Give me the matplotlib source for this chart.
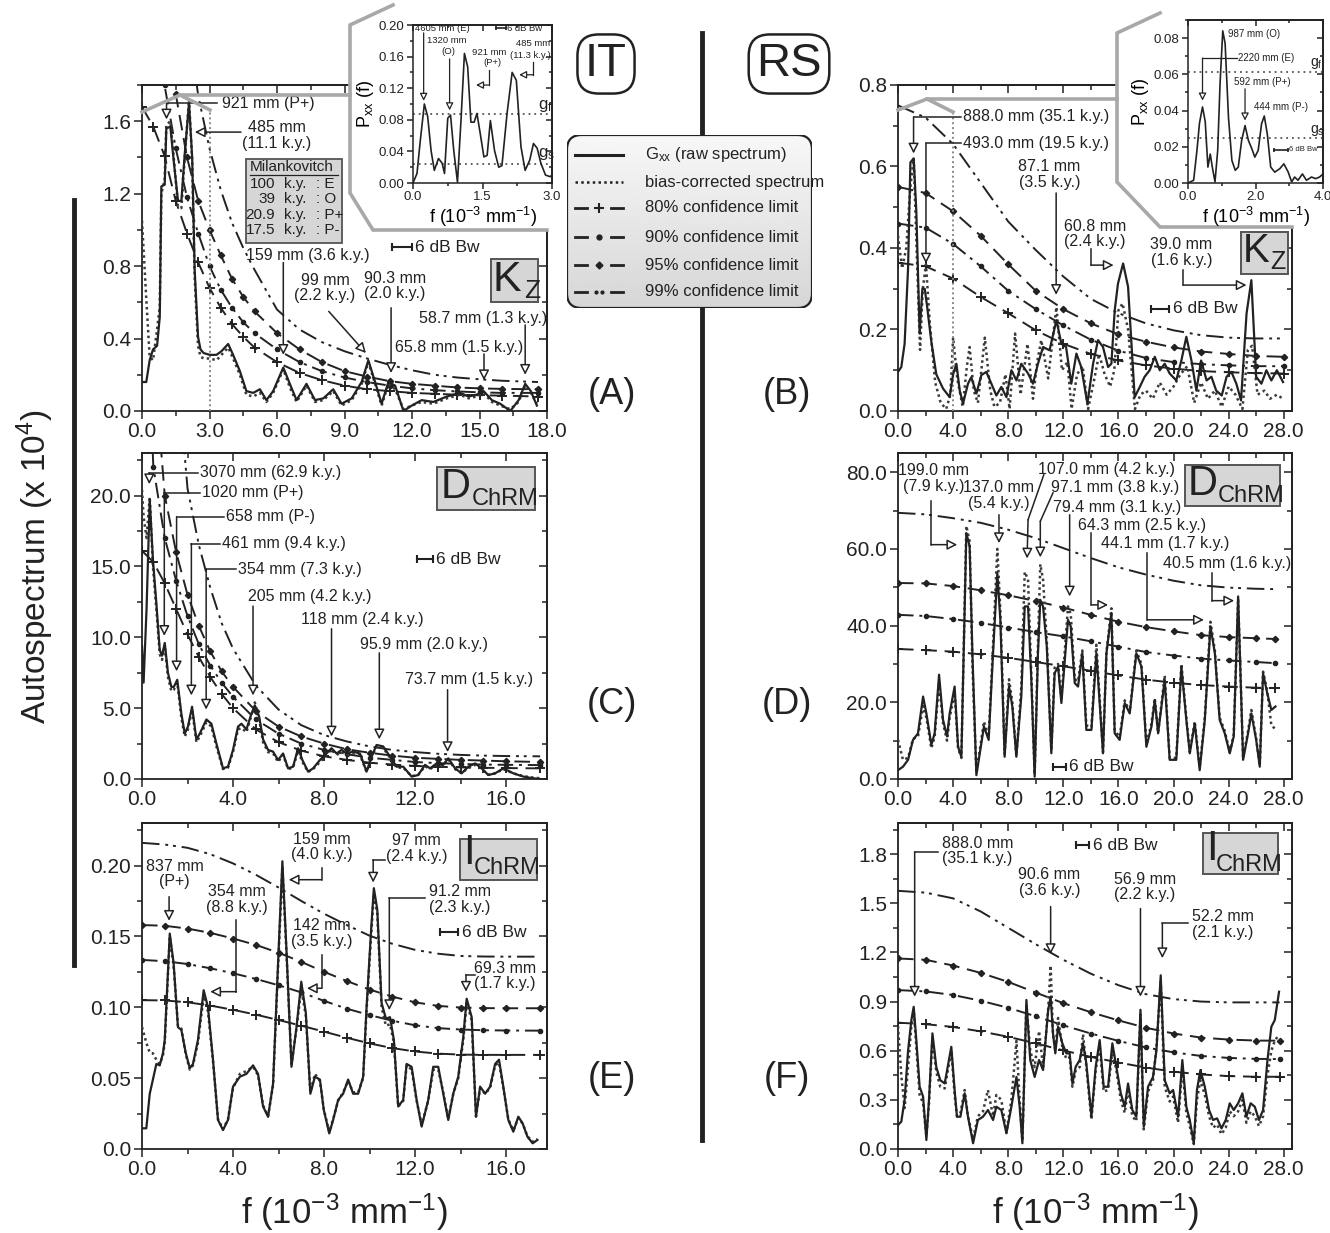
"""
Autospectra of the IT and RS sections (Kz, D_ChRM, I_ChRM) with the
bias-corrected spectrum and 80/90/95/99 % confidence limits.
"""
import matplotlib
matplotlib.use("Agg")
import matplotlib.pyplot as plt
from matplotlib.lines import Line2D
from matplotlib.patches import Rectangle, Polygon, FancyBboxPatch
from matplotlib.ticker import MultipleLocator, FormatStrFormatter, FuncFormatter
import numpy as np

# ── panel A : IT, Kz ─────────────────────────────────────────────────────────
A_F = [0.0, 0.19, 0.34, 0.49, 0.67, 0.79, 0.86, 1.01, 1.08, 1.26, 1.41, 1.60, 1.75, 1.90, 2.09,
       2.23, 2.34, 2.49, 2.60, 2.74, 3.01, 3.31, 3.53, 3.83, 4.05, 4.35, 4.64, 4.94, 5.24, 5.53,
       5.83, 6.28, 6.57, 6.87, 7.31, 7.69, 8.06, 8.50, 8.87, 9.32, 9.76, 10.06, 10.36, 10.65,
       10.95, 11.25, 11.62, 11.99, 12.43, 12.95, 13.55, 14.14, 14.51, 14.88, 15.18, 15.55, 15.92,
       16.37, 16.74, 17.03, 17.28, 17.55]
A_RAW = [0.16, 0.16, 0.28, 0.34, 0.36, 0.52, 1.24, 1.25, 1.56, 1.57, 1.38, 1.16, 1.16, 1.42, 1.70,
         1.40, 0.78, 0.41, 0.34, 0.32, 0.31, 0.31, 0.33, 0.37, 0.31, 0.22, 0.11, 0.10, 0.12, 0.06,
         0.11, 0.24, 0.15, 0.06, 0.15, 0.06, 0.07, 0.12, 0.04, 0.07, 0.16, 0.28, 0.16, 0.04, 0.16,
         0.14, 0.00, 0.03, 0.06, 0.05, 0.08, 0.10, 0.08, 0.09, 0.11, 0.06, 0.04, 0.00, 0.06, 0.15,
         0.11, 0.03]
A_BC = [1.05, 0.62, 0.30, 0.28, 0.45, 0.58, 1.20, 1.28, 1.58, 1.60, 1.40, 1.13, 1.12, 1.40, 1.72,
        1.38, 0.74, 0.36, 0.30, 0.29, 0.29, 0.28, 0.31, 0.35, 0.29, 0.20, 0.09, 0.08, 0.10, 0.05,
        0.10, 0.23, 0.13, 0.05, 0.14, 0.05, 0.06, 0.11, 0.03, 0.06, 0.15, 0.27, 0.15, 0.03, 0.15,
        0.12, 0.01, 0.03, 0.05, 0.04, 0.07, 0.09, 0.07, 0.08, 0.10, 0.05, 0.03, 0.01, 0.05, 0.14,
        0.10, 0.04]
A_CF = [0.0, 0.5, 1.0, 1.5, 2.0, 2.5, 3.0, 3.5, 4.0, 4.5, 5.0, 6.0, 7.0, 8.0, 9.0, 10.0, 11.0,
        12.0, 13.0, 14.0, 15.0, 16.0, 17.6]
A_C80 = [1.68, 1.57, 1.41, 1.16, 0.98, 0.82, 0.68, 0.57, 0.48, 0.41, 0.35, 0.27, 0.21, 0.17, 0.14,
         0.12, 0.11, 0.10, 0.095, 0.09, 0.087, 0.085, 0.08]
A_C90 = [3.5, 2.5, 1.8, 1.45, 1.18, 0.98, 0.80, 0.67, 0.57, 0.49, 0.43, 0.34, 0.27, 0.22, 0.185,
         0.16, 0.14, 0.125, 0.115, 0.108, 0.103, 0.10, 0.10]
A_C95 = [5.0, 3.6, 2.5, 1.75, 1.40, 1.16, 1.00, 0.86, 0.73, 0.63, 0.55, 0.43, 0.34, 0.27, 0.22,
         0.19, 0.165, 0.15, 0.14, 0.13, 0.125, 0.122, 0.12]
A_C99 = [9.0, 6.0, 4.0, 3.0, 2.2, 1.74, 1.45, 1.22, 1.04, 0.90, 0.78, 0.56, 0.45, 0.38, 0.33,
         0.29, 0.255, 0.225, 0.20, 0.185, 0.175, 0.167, 0.16]

# inset of panel A
IA_F = [0, 0.086, 0.158, 0.245, 0.317, 0.39, 0.46, 0.55, 0.63, 0.68, 0.75, 0.81, 0.88, 0.96,
        1.04, 1.11, 1.18, 1.25, 1.32, 1.38, 1.45, 1.53, 1.6, 1.67, 1.76, 1.85, 1.92, 2.03, 2.14,
        2.23, 2.33, 2.42, 2.52, 2.6, 2.68, 2.76, 2.86, 2.96, 3.0]
IA_P = [0, 0.012, 0.054, 0.1, 0.084, 0.041, 0.016, 0.031, 0.025, 0.012, 0.082, 0.086, 0.041,
        0.001, 0.084, 0.164, 0.147, 0.077, 0.077, 0.088, 0.063, 0.033, 0.035, 0.079, 0.041, 0.02,
        0.022, 0.088, 0.14, 0.13, 0.046, 0.016, 0.029, 0.05, 0.044, 0.025, 0.01, 0.008, 0.01]
IA_GF, IA_GS = 0.087, 0.0245

# ── panel B : RS, Kz ─────────────────────────────────────────────────────────
B_F = [0, 0.24, 0.48, 0.73, 0.9, 1.14, 1.33, 1.57, 1.77, 1.94, 2.1, 2.42, 2.78, 3.27, 3.75, 4.0,
       4.24, 4.48, 4.72, 5.08, 5.32, 5.69, 6.05, 6.41, 6.78, 7.14, 7.5, 7.87, 8.23, 8.6, 8.95,
       9.44, 9.8, 10.16, 10.53, 11.0, 11.5, 11.86, 12.2, 12.58, 12.95, 13.3, 13.75, 14.16, 14.52,
       14.88, 15.25, 15.49, 15.73, 15.97, 16.34, 16.7, 17.18, 17.55, 17.9, 18.27, 18.64, 19.0,
       19.36, 19.72, 20.2, 20.57, 20.93, 21.3, 21.66, 22.0, 22.4, 22.75, 23.1, 23.5, 23.85, 24.2,
       24.56, 24.9, 25.3, 25.65, 26.0, 26.38, 26.74, 27.1, 27.5, 27.95]
B_RAW = [0.096, 0.108, 0.165, 0.35, 0.61, 0.62, 0.49, 0.19, 0.30, 0.30, 0.26, 0.17, 0.09, 0.055,
         0.034, 0.09, 0.116, 0.05, 0.018, 0.067, 0.083, 0.043, 0.088, 0.096, 0.067, 0.038, 0.059,
         0.034, 0.1, 0.075, 0.116, 0.092, 0.067, 0.116, 0.157, 0.149, 0.223, 0.165, 0.157, 0.067,
         0.141, 0.108, 0.018, 0.116, 0.174, 0.157, 0.108, 0.116, 0.247, 0.313, 0.362, 0.305,
         0.034, 0.059, 0.084, 0.1, 0.133, 0.1, 0.116, 0.092, 0.075, 0.124, 0.182, 0.124, 0.05,
         0.124, 0.075, 0.084, 0.05, 0.038, 0.084, 0.096, 0.067, 0.026, 0.239, 0.321, 0.084, 0.067,
         0.1, 0.075, 0.1, 0.071]
B_BF = [0, 0.3, 0.6, 0.9, 1.14, 1.35, 1.6, 1.8, 2.03, 2.3, 2.7, 3.1, 3.5, 3.8, 4.0, 4.3, 4.7, 5.0,
        5.2, 5.5, 5.8, 6.3, 6.7, 7.0, 7.4, 7.8, 8.1, 8.5, 8.9, 9.4, 9.8, 10.1, 10.4, 10.9, 11.5,
        11.9, 12.3, 12.6, 13.0, 13.4, 13.8, 14.2, 14.6, 15.0, 15.4, 15.7, 16.0, 16.3, 16.7, 17.2,
        17.6, 18.0, 18.5, 19.0, 19.5, 20.0, 20.5, 21.0, 21.5, 22.0, 22.5, 23.0, 23.5, 24.0, 24.5,
        25.0, 25.4, 25.7, 26.1, 26.6, 27.0, 27.5, 27.95]
B_BC = [0.43, 0.35, 0.40, 0.55, 0.62, 0.40, 0.15, 0.30, 0.36, 0.22, 0.07, 0.02, 0.005, 0.04, 0.18,
        0.08, 0.01, 0.11, 0.157, 0.05, 0.02, 0.18, 0.05, 0.01, 0.02, 0.09, 0.005, 0.19, 0.04, 0.165,
        0.03, 0.12, 0.174, 0.08, 0.255, 0.10, 0.12, 0.005, 0.09, 0.11, 0.005, 0.07, 0.14, 0.09,
        0.06, 0.10, 0.247, 0.264, 0.20, 0.005, 0.04, 0.05, 0.03, 0.07, 0.04, 0.06, 0.09, 0.11,
        0.02, 0.07, 0.03, 0.05, 0.01, 0.06, 0.04, 0.005, 0.15, 0.16, 0.04, 0.05, 0.03, 0.04, 0.03]
B_CF = [0, 2, 4, 6, 8, 10, 12, 14, 16, 18, 20, 22, 24, 26, 28]
B_C80 = [0.364, 0.355, 0.325, 0.28, 0.24, 0.198, 0.165, 0.14, 0.124, 0.112, 0.104, 0.098, 0.095,
         0.093, 0.092]
B_C90 = [0.46, 0.45, 0.41, 0.355, 0.295, 0.25, 0.21, 0.175, 0.148, 0.13, 0.12, 0.115, 0.112,
         0.11, 0.11]
B_C95 = [0.55, 0.535, 0.49, 0.43, 0.36, 0.295, 0.25, 0.215, 0.188, 0.17, 0.156, 0.146, 0.14,
         0.135, 0.133]
B_C99 = [0.75, 0.72, 0.655, 0.56, 0.465, 0.395, 0.33, 0.275, 0.24, 0.215, 0.198, 0.186, 0.18,
         0.178, 0.178]

# inset of panel B
IB_F = [0, 0.167, 0.265, 0.34, 0.43, 0.51, 0.59, 0.66, 0.72, 0.8, 0.88, 0.95, 1.03, 1.1, 1.2,
        1.3, 1.4, 1.49, 1.59, 1.69, 1.79, 1.89, 1.98, 2.08, 2.18, 2.26, 2.35, 2.45, 2.57, 2.72,
        2.84, 2.97, 3.07, 3.16, 3.26, 3.39, 3.51, 3.66, 3.78, 3.9, 4.0]
IB_P = [0, 0.0015, 0.018, 0.033, 0.042, 0.034, 0.0088, 0.016, 0.0088, 0.0006, 0.018, 0.055,
        0.084, 0.077, 0.036, 0.0125, 0.007, 0.0088, 0.0235, 0.0317, 0.0235, 0.019, 0.0143, 0.018,
        0.0327, 0.037, 0.027, 0.0088, 0.006, 0.0079, 0.0106, 0.006, 0.0006, 0.0033, 0.0015,
        0.005, 0.0015, 0.0033, 0.0024, 0.0033, 0.005]
IB_GF, IB_GS = 0.0615, 0.0248

# ── panel C : IT, D_ChRM ─────────────────────────────────────────────────────
C_F = [0, 0.07, 0.2, 0.34, 0.48, 0.63, 0.78, 0.88, 1.0, 1.14, 1.29, 1.4, 1.55, 1.73, 1.88, 2.02,
       2.2, 2.39, 2.54, 2.83, 3.05, 3.27, 3.56, 3.78, 4.0, 4.22, 4.37, 4.59, 4.81, 4.96, 5.15,
       5.32, 5.54, 5.76, 5.98, 6.2, 6.42, 6.64, 6.86, 7.05, 7.3, 7.52, 7.82, 8.11, 8.33, 8.55,
       8.77, 8.99, 9.28, 9.58, 9.87, 10.09, 10.31, 10.6, 10.9, 11.19, 11.48, 11.85, 12.14, 12.44,
       12.66, 12.95, 13.24, 13.46, 13.76, 14.05, 14.34, 14.64, 14.93, 15.22, 15.52, 15.88, 16.32,
       16.76, 17.2, 17.5]
C_RAW = [9.4, 6.8, 12.0, 19.7, 15.5, 12.4, 9.1, 8.7, 9.6, 7.5, 6.5, 6.5, 7.0, 4.6, 3.2, 3.7, 5.1,
         2.8, 3.2, 4.2, 3.9, 2.5, 0.75, 0.87, 2.05, 3.7, 3.9, 3.5, 4.6, 5.2, 4.4, 2.8, 2.05, 1.93,
         1.34, 1.8, 0.75, 0.87, 2.17, 1.34, 0.52, 0.75, 1.34, 1.8, 2.17, 1.8, 2.05, 1.8, 1.93, 1.8,
         0.52, 1.58, 2.4, 2.3, 1.58, 0.87, 0.87, 0.17, 0.28, 1.0, 0.75, 1.1, 1.0, 1.46, 0.75, 0.4,
         0.87, 1.1, 0.75, 0.28, 0.4, 0.75, 0.4, 0.17, 0.05, 0.0]
C_BC = [20.4, 18.5, 17.0, 19.9, 15.0, 12.0, 8.8, 8.4, 9.4, 7.2, 6.2, 6.3, 6.8, 4.3, 3.0, 3.5, 4.9,
        2.6, 3.0, 4.0, 3.7, 2.3, 0.7, 0.8, 1.9, 3.5, 3.6, 3.3, 4.5, 5.4, 4.2, 2.6, 1.9, 1.8, 1.2,
        1.7, 0.7, 0.8, 2.0, 1.2, 0.5, 0.7, 1.2, 1.7, 2.1, 1.7, 1.9, 1.7, 1.8, 1.7, 0.5, 1.5, 2.3,
        2.2, 1.5, 0.8, 0.8, 0.2, 0.3, 0.9, 0.7, 1.0, 0.9, 1.4, 0.7, 0.4, 0.8, 1.0, 0.7, 0.3, 0.4,
        0.7, 0.4, 0.2, 0.1, 0.05]
C_CF = [0, 0.5, 1.0, 1.5, 2.0, 2.5, 3.0, 3.5, 4.0, 5.0, 6.0, 7.0, 8.0, 9.0, 10.0, 11.0, 12.0,
        13.0, 14.0, 15.0, 16.0, 17.5]
C_C80 = [16.1, 15.3, 13.8, 12.0, 10.2, 8.6, 7.2, 6.0, 5.0, 3.5, 2.6, 2.0, 1.6, 1.35, 1.15, 1.02,
         0.92, 0.86, 0.82, 0.79, 0.77, 0.75]
C_C90 = [40.0, 22.0, 17.0, 14.0, 11.5, 9.5, 8.0, 6.8, 5.8, 4.2, 3.2, 2.5, 2.05, 1.75, 1.5, 1.35,
         1.2, 1.12, 1.06, 1.02, 1.0, 0.98]
C_C95 = [60.0, 30.0, 20.0, 16.0, 13.0, 10.8, 9.0, 7.6, 6.5, 4.8, 3.7, 3.0, 2.5, 2.1, 1.85, 1.65,
         1.5, 1.42, 1.35, 1.3, 1.25, 1.2]
C_C99 = [120.0, 70.0, 45.0, 30.0, 20.5, 16.5, 13.5, 11.0, 9.2, 6.6, 4.9, 3.8, 3.1, 2.65, 2.3,
         2.05, 1.9, 1.78, 1.7, 1.65, 1.62, 1.6]

# ── panel D : RS, D_ChRM ─────────────────────────────────────────────────────
D_F = [0, 0.36, 0.73, 1.09, 1.45, 1.82, 2.06, 2.42, 2.66, 2.98, 3.27, 3.56, 3.75, 4.11, 4.36,
       4.6, 4.96, 5.2, 5.4, 5.69, 6.24, 6.58, 6.9, 7.21, 7.43, 7.74, 8.06, 8.3, 8.59, 8.95, 9.2,
       9.44, 9.68, 9.92, 10.16, 10.33, 10.53, 10.8, 11.13, 11.37, 11.62, 11.86, 12.34, 12.54,
       12.83, 13.07, 13.38, 13.67, 14.04, 14.4, 14.88, 15.13, 15.49, 15.73, 16.09, 16.46, 16.82,
       17.3, 17.67, 18.03, 18.4, 18.64, 18.88, 19.36, 19.72, 20.2, 20.57, 20.93, 21.18, 21.54,
       21.9, 22.27, 22.68, 23.0, 23.35, 23.72, 24.08, 24.37, 24.69, 25.05, 25.41, 25.65, 26.0,
       26.26, 26.5, 26.8, 27.1, 27.4]
D_RAW = [2.3, 3.2, 5.0, 10.2, 11.9, 21.5, 17.1, 8.9, 11.9, 27.2, 15.4, 11.1, 17.1, 24.1, 8.4, 5.8,
         64.1, 60.7, 32.8, 1.0, 13.7, 10.2, 32.8, 53.7, 41.5, 5.8, 24.1, 18.9, 5.8, 21.5, 45.0,
         45.0, 25.8, 0.6, 32.8, 46.7, 45.0, 34.6, 6.7, 27.6, 29.3, 19.8, 41.5, 39.8, 25.0, 24.1,
         32.8, 12.8, 12.8, 32.8, 6.7, 32.8, 43.3, 11.9, 10.2, 19.8, 17.1, 32.8, 29.3, 8.4, 13.7,
         20.6, 11.9, 25.8, 5.0, 5.0, 29.3, 15.4, 6.7, 14.5, 2.3, 15.4, 39.8, 32.8, 15.4, 11.9, 6.7,
         11.1, 47.6, 5.0, 11.9, 17.1, 10.2, 3.2, 27.6, 22.4, 18.0, 18.9]
D_BC = [10.2, 5.0, 5.5, 10.5, 11.0, 19.0, 16.0, 8.0, 11.0, 25.0, 14.5, 10.0, 16.0, 22.5, 8.0, 5.5,
        66.0, 62.0, 30.0, 1.5, 15.0, 11.0, 35.0, 60.0, 44.0, 6.5, 26.0, 20.0, 6.0, 24.0, 54.0,
        52.0, 27.0, 1.2, 35.0, 56.0, 52.0, 36.0, 7.5, 29.0, 30.0, 21.0, 45.0, 43.0, 26.0, 25.5,
        33.5, 14.0, 13.5, 35.0, 7.0, 33.0, 44.5, 12.5, 11.0, 20.5, 17.5, 33.5, 30.0, 9.0, 14.5,
        21.0, 12.0, 27.0, 5.5, 5.5, 30.0, 16.0, 7.0, 15.0, 3.0, 16.0, 41.0, 33.5, 16.0, 12.5, 7.0,
        11.5, 47.0, 5.5, 12.5, 18.0, 10.5, 3.5, 28.0, 23.0, 14.0, 13.0]
D_CF = [0, 2, 4, 6, 8, 10, 12, 14, 16, 18, 20, 22, 24, 26, 27.4]
D_C80 = [33.9, 33.6, 33.2, 32.5, 31.6, 30.5, 29.4, 28.2, 27.0, 25.9, 25.1, 24.5, 24.1, 23.8, 23.7]
D_C90 = [42.8, 42.5, 41.7, 40.7, 39.5, 38.3, 37.2, 35.9, 34.5, 33.1, 32.2, 31.4, 30.9, 30.5, 30.2]
D_C95 = [51.1, 51.0, 50.3, 49.2, 47.9, 46.4, 44.7, 42.8, 41.0, 39.6, 38.5, 37.5, 37.0, 36.7, 36.5]
D_C99 = [69.4, 69.0, 68.0, 66.8, 65.0, 62.8, 60.2, 57.6, 55.2, 53.3, 51.7, 50.5, 49.9, 49.6, 49.5]

# ── panel E : IT, I_ChRM ─────────────────────────────────────────────────────
E_F = [0, 0.19, 0.34, 0.48, 0.63, 0.78, 0.92, 1.0, 1.22, 1.39, 1.58, 1.73, 1.92, 2.1, 2.24, 2.46,
       2.71, 2.9, 3.12, 3.34, 3.56, 3.78, 4.0, 4.3, 4.59, 4.88, 5.1, 5.32, 5.54, 5.76, 5.98, 6.17,
       6.35, 6.57, 6.79, 7.0, 7.2, 7.4, 7.6, 7.82, 7.99, 8.23, 8.4, 8.62, 8.84, 9.06, 9.28, 9.5,
       9.72, 9.87, 10.06, 10.19, 10.34, 10.53, 10.72, 10.9, 11.07, 11.26, 11.48, 11.63, 11.85,
       12.07, 12.29, 12.58, 12.8, 13.02, 13.24, 13.46, 13.68, 13.9, 14.12, 14.27, 14.49, 14.68,
       14.86, 15.08, 15.3, 15.52, 15.69, 15.88, 16.1, 16.32, 16.54, 16.73, 16.94, 17.17, 17.38]
E_RAW = [0.0146, 0.0146, 0.039, 0.049, 0.06, 0.059, 0.0675, 0.077, 0.152, 0.131, 0.086, 0.084,
         0.068, 0.057, 0.06, 0.077, 0.112, 0.1, 0.063, 0.0205, 0.0134, 0.0205, 0.044, 0.051,
         0.053, 0.059, 0.053, 0.03, 0.0228, 0.046, 0.131, 0.203, 0.14, 0.058, 0.086, 0.118, 0.096,
         0.039, 0.051, 0.049, 0.0275, 0.011, 0.0205, 0.0346, 0.039, 0.049, 0.039, 0.039, 0.051,
         0.1, 0.152, 0.184, 0.169, 0.103, 0.092, 0.093, 0.077, 0.03, 0.0346, 0.06, 0.058, 0.0346,
         0.0158, 0.0346, 0.058, 0.058, 0.039, 0.0205, 0.039, 0.051, 0.079, 0.106, 0.093, 0.0228,
         0.044, 0.039, 0.044, 0.06, 0.063, 0.044, 0.0205, 0.0122, 0.0228, 0.018, 0.0087, 0.004,
         0.0064]
E_BC = [0.086, 0.075, 0.068, 0.0675, 0.063, 0.06, 0.066, 0.075, 0.15, 0.129, 0.087, 0.085, 0.067,
        0.056, 0.059, 0.075, 0.108, 0.097, 0.062, 0.021, 0.014, 0.021, 0.043, 0.053, 0.055, 0.058,
        0.052, 0.031, 0.023, 0.045, 0.128, 0.198, 0.138, 0.06, 0.085, 0.113, 0.094, 0.04, 0.053,
        0.048, 0.028, 0.012, 0.021, 0.034, 0.04, 0.048, 0.04, 0.04, 0.05, 0.098, 0.148, 0.18,
        0.166, 0.1, 0.087, 0.088, 0.075, 0.03, 0.034, 0.059, 0.056, 0.034, 0.017, 0.034, 0.056,
        0.056, 0.04, 0.021, 0.039, 0.05, 0.077, 0.103, 0.091, 0.023, 0.043, 0.039, 0.043, 0.059,
        0.061, 0.043, 0.021, 0.013, 0.022, 0.018, 0.009, 0.005, 0.007]
E_CF = [0, 1, 2, 3, 4, 5, 6, 7, 8, 9, 10, 11, 12, 13, 14, 15, 16, 17.5]
E_C80 = [0.105, 0.1048, 0.1035, 0.1012, 0.0982, 0.0948, 0.091, 0.087, 0.0828, 0.0785, 0.0745,
         0.0712, 0.0688, 0.0673, 0.0666, 0.0664, 0.0664, 0.0664]
E_C90 = [0.1334, 0.1325, 0.1305, 0.1275, 0.124, 0.12, 0.1155, 0.1105, 0.1045, 0.099, 0.0945,
         0.0905, 0.0873, 0.0853, 0.0843, 0.0838, 0.0836, 0.0835]
E_C95 = [0.158, 0.1575, 0.1555, 0.1525, 0.1485, 0.144, 0.1385, 0.132, 0.125, 0.1185, 0.1125,
         0.1075, 0.1035, 0.101, 0.0998, 0.0994, 0.0993, 0.0993]
E_C99 = [0.216, 0.2148, 0.2125, 0.208, 0.2015, 0.1935, 0.1845, 0.175, 0.166, 0.158, 0.1505,
         0.1448, 0.1405, 0.1378, 0.1362, 0.1358, 0.1357, 0.1357]

# ── panel F : RS, I_ChRM ─────────────────────────────────────────────────────
F_F = [0, 0.24, 0.48, 0.73, 0.97, 1.14, 1.33, 1.57, 1.82, 2.06, 2.25, 2.5, 2.78, 3.07, 3.39, 3.87,
       4.11, 4.28, 4.53, 4.84, 5.08, 5.45, 5.8, 6.17, 6.53, 6.9, 7.14, 7.5, 7.87, 8.23, 8.6, 8.83,
       9.03, 9.32, 9.6, 9.92, 10.24, 10.53, 10.9, 11.08, 11.25, 11.42, 11.62, 11.93, 12.22, 12.46,
       12.66, 12.9, 13.19, 13.43, 13.67, 14.04, 14.35, 14.64, 14.93, 15.25, 15.56, 15.85, 16.17,
       16.46, 16.7, 17.01, 17.3, 17.6, 17.84, 18.15, 18.51, 18.76, 19.07, 19.36, 19.72, 19.97,
       20.33, 20.64, 20.93, 21.18, 21.47, 21.7, 21.95, 22.27, 22.58, 22.87, 23.16, 23.48, 23.79,
       24.08, 24.37, 24.69, 25.0, 25.29, 25.6, 25.9, 26.2, 26.5, 26.82, 27.1, 27.35, 27.66]
F_RAW = [0.146, 0.167, 0.3, 0.6, 0.787, 0.868, 0.665, 0.38, 0.32, 0.055, 0.3, 0.706, 0.5, 0.42,
         0.4, 0.624, 0.36, 0.197, 0.197, 0.34, 0.197, 0.035, 0.177, 0.197, 0.238, 0.177, 0.258,
         0.238, 0.096, 0.258, 0.44, 0.258, 0.035, 0.91, 0.543, 0.44, 0.543, 0.482, 0.848, 0.929,
         0.706, 0.584, 0.746, 0.645, 0.584, 0.584, 0.4, 0.502, 0.543, 0.645, 0.523, 0.197, 0.502,
         0.665, 0.38, 0.38, 0.645, 0.502, 0.34, 0.258, 0.4, 0.238, 0.197, 0.85, 0.136, 0.38, 0.44,
         0.604, 1.06, 0.42, 0.34, 0.36, 0.197, 0.543, 0.258, 0.177, 0.035, 0.36, 0.482, 0.38,
         0.238, 0.177, 0.187, 0.126, 0.177, 0.279, 0.238, 0.279, 0.34, 0.197, 0.279, 0.258, 0.177,
         0.238, 0.543, 0.746, 0.787, 0.96]
F_BC = [0.75, 0.45, 0.25, 0.5, 0.75, 0.85, 0.62, 0.33, 0.28, 0.08, 0.28, 0.68, 0.47, 0.38, 0.37,
        0.6, 0.33, 0.2, 0.22, 0.36, 0.2, 0.06, 0.2, 0.23, 0.36, 0.2, 0.33, 0.3, 0.1, 0.3, 0.66, 0.3,
        0.05, 0.88, 0.6, 0.5, 0.72, 0.5, 0.85, 1.12, 0.7, 0.6, 0.8, 0.62, 0.55, 0.56, 0.38, 0.48,
        0.5, 0.7, 0.5, 0.18, 0.48, 0.63, 0.35, 0.36, 0.6, 0.48, 0.3, 0.22, 0.37, 0.2, 0.17, 0.82,
        0.12, 0.35, 0.42, 0.62, 1.02, 0.38, 0.29, 0.32, 0.16, 0.5, 0.22, 0.14, 0.03, 0.3, 0.42,
        0.33, 0.2, 0.13, 0.15, 0.09, 0.13, 0.23, 0.2, 0.23, 0.3, 0.16, 0.23, 0.2, 0.14, 0.2, 0.45,
        0.6, 0.66, 0.7]
F_CF = [0, 2, 4, 6, 8, 10, 12, 14, 16, 18, 20, 22, 24, 26, 27.7]
F_C80 = [0.771, 0.762, 0.745, 0.718, 0.685, 0.645, 0.602, 0.562, 0.528, 0.497, 0.472, 0.455,
         0.445, 0.441, 0.441]
F_C90 = [0.97, 0.962, 0.94, 0.905, 0.862, 0.81, 0.755, 0.705, 0.66, 0.62, 0.59, 0.568, 0.556,
         0.55, 0.549]
F_C95 = [1.163, 1.155, 1.12, 1.075, 1.02, 0.955, 0.89, 0.835, 0.785, 0.74, 0.705, 0.68, 0.668,
         0.662, 0.661]
F_C99 = [1.576, 1.565, 1.53, 1.45, 1.35, 1.25, 1.155, 1.07, 1.0, 0.945, 0.915, 0.9, 0.895, 0.895,
         0.895]

LEGEND_LABELS = [r"G$_{\mathrm{xx}}$ (raw spectrum)", "bias-corrected spectrum",
                 "80% confidence limit", "90% confidence limit",
                 "95% confidence limit", "99% confidence limit"]
MILANKOVITCH = [("100", "E"), ("39", "O"), ("20.9", "P+"), ("17.5", "P-")]

# ── style ────────────────────────────────────────────────────────────────────
W, H = 1330, 1233
INK = "#222222"
GREY = "#a8a8a8"
BOXGREY = "#d6d6d6"
FS_NOTE = 11.5

plt.rcParams.update({
    "font.family": ["Liberation Sans", "DejaVu Sans"],
    "mathtext.fontset": "custom",
    "mathtext.rm": "Liberation Sans",
    "mathtext.it": "Liberation Sans:italic",
    "mathtext.bf": "Liberation Sans:bold",
    "text.color": INK,
    "axes.edgecolor": INK,
    "axes.linewidth": 1.3,
    "xtick.color": INK,
    "ytick.color": INK,
})


def rect(l, t, r, b):
    """pixel box (left, top, right, bottom) -> figure fraction rect"""
    return [l / W, 1 - b / H, (r - l) / W, (b - t) / H]


def fpt(x, y):
    return (x / W, 1 - y / H)


def style_axes(ax, xlim, ylim, xstep, ystep, yfmt="%.1f", xfmt="%.1f", lsize=15,
               major_len=6, minor_len=3.5):
    ax.set_xlim(*xlim)
    ax.set_ylim(*ylim)
    for axis, step in ((ax.xaxis, xstep), (ax.yaxis, ystep)):
        axis.set_major_locator(MultipleLocator(step))
        axis.set_minor_locator(MultipleLocator(step / 2))
    ax.xaxis.set_major_formatter(FormatStrFormatter(xfmt))
    if callable(yfmt):
        ax.yaxis.set_major_formatter(FuncFormatter(yfmt))
    else:
        ax.yaxis.set_major_formatter(FormatStrFormatter(yfmt))
    ax.tick_params(which="both", direction="out", labelsize=lsize, width=1.1, pad=2)
    ax.tick_params(which="major", length=major_len)
    ax.tick_params(which="minor", length=minor_len)
    # inward mirrored ticks on top / right
    top = ax.secondary_xaxis("top")
    right = ax.secondary_yaxis("right")
    top.xaxis.set_major_locator(MultipleLocator(xstep))
    top.xaxis.set_minor_locator(MultipleLocator(xstep / 2))
    right.yaxis.set_major_locator(MultipleLocator(ystep))
    right.yaxis.set_minor_locator(MultipleLocator(ystep / 2))
    top.tick_params(which="both", direction="in", labeltop=False, width=1.1)
    right.tick_params(which="both", direction="in", labelright=False, width=1.1)
    top.tick_params(which="major", length=major_len)
    top.tick_params(which="minor", length=minor_len)
    right.tick_params(which="major", length=major_len)
    right.tick_params(which="minor", length=minor_len)


def draw_spectra(ax, f, raw, fb, bc, fc, c80, c90, c95, c99):
    ax.plot(fc, c99, color=INK, lw=1.4, ls=(0, (9, 3, 1.5, 2.5, 1.5, 3)), zorder=2)
    ax.plot(fc, c95, color=INK, lw=1.4, ls=(0, (8, 4)), marker="D", ms=3.2, zorder=2)
    ax.plot(fc, c90, color=INK, lw=1.4, ls=(0, (8, 3, 1.5, 3)), marker="o", ms=3.0, zorder=2)
    ax.plot(fc, c80, color=INK, lw=1.4, ls=(0, (8, 4)), marker="+", ms=7, mew=1.4, zorder=2)
    ax.plot(fb, bc, color="#3a3a3a", lw=1.8, ls=(0, (1, 1.3)), zorder=3)
    ax.plot(f, raw, color=INK, lw=1.6, zorder=4)


def note(ax, text, xy, path=None, ha="left", fs=FS_NOTE, lw=1.1, head=11):
    ax.text(xy[0], xy[1], text, ha=ha, va="center", fontsize=fs,
            multialignment="center", linespacing=1.05, zorder=7)
    if path:
        xs, ys = zip(*path)
        if len(path) > 2:
            ax.plot(xs[:-1], ys[:-1], color=INK, lw=lw, zorder=7, clip_on=False)
        ax.annotate("", xy=path[-1], xytext=path[-2], zorder=7,
                    arrowprops=dict(arrowstyle="-|>,head_length=0.55,head_width=0.28",
                                    fc="white", ec=INK, lw=lw, shrinkA=0, shrinkB=0,
                                    mutation_scale=head))


def bandwidth(ax, x0, x1, y, fs=12.5, ms=6, lw=1.5):
    ax.plot([x0, x1], [y, y], color=INK, lw=lw, marker="|", ms=ms, mew=lw, zorder=7)
    span = ax.get_xlim()[1] - ax.get_xlim()[0]
    ax.text(x1 + span * 0.008, y, "6 dB Bw", ha="left", va="center", fontsize=fs, zorder=7)


def name_box(ax, box, big, big_xy, sub, sub_xy, big_fs=30, sub_fs=17):
    x0, y0, x1, y1 = box
    ax.add_patch(Rectangle((x0, y0), x1 - x0, y1 - y0, fc=BOXGREY, ec="#555555", lw=1.4,
                           zorder=6))
    ax.text(*big_xy, big, fontsize=big_fs, ha="left", va="center", zorder=7)
    ax.text(*sub_xy, sub, fontsize=sub_fs, ha="left", va="center", zorder=7)


fig = plt.figure(figsize=(W / 100, H / 100), dpi=100)

# ── main panels ──────────────────────────────────────────────────────────────
axA = fig.add_axes(rect(142, 85, 547, 411))
axB = fig.add_axes(rect(898, 85, 1292, 411))
axC = fig.add_axes(rect(142, 453, 547, 779))
axD = fig.add_axes(rect(898, 453, 1292, 779))
axE = fig.add_axes(rect(142, 823, 547, 1149))
axF = fig.add_axes(rect(898, 823, 1292, 1149))

style_axes(axA, (0, 18), (0, 1.8), 3, 0.4)
style_axes(axB, (0, 28.6), (0, 0.8), 4, 0.2)
style_axes(axC, (0, 17.8), (0, 23), 4, 5)
style_axes(axD, (0, 28.6), (0, 85), 4, 20)
style_axes(axE, (0, 17.8), (0, 0.23), 4, 0.05,
           yfmt=lambda v, p: "0.0" if abs(v) < 1e-9 else f"{v:.2f}")
style_axes(axF, (0, 28.6), (0, 1.99), 4, 0.3)

draw_spectra(axA, A_F, A_RAW, A_F, A_BC, A_CF, A_C80, A_C90, A_C95, A_C99)
draw_spectra(axB, B_F, B_RAW, B_BF, B_BC, B_CF, B_C80, B_C90, B_C95, B_C99)
draw_spectra(axC, C_F, C_RAW, C_F, C_BC, C_CF, C_C80, C_C90, C_C95, C_C99)
draw_spectra(axD, D_F, D_RAW, D_F, D_BC, D_CF, D_C80, D_C90, D_C95, D_C99)
draw_spectra(axE, E_F, E_RAW, E_F, E_BC, E_CF, E_C80, E_C90, E_C95, E_C99)
draw_spectra(axF, F_F, F_RAW, F_F, F_BC, F_CF, F_C80, F_C90, F_C95, F_C99)

# panel A
axA.plot([3.0, 3.0], [0, 1.66], color="#888888", lw=1.4, ls=(0, (1, 1.5)), zorder=3)
note(axA, "921 mm (P+)", (3.55, 1.70), [(3.35, 1.70), (1.09, 1.70), (1.09, 1.61)])
note(axA, "485 mm\n(11.1 k.y.)", (5.98, 1.52), [(4.4, 1.54), (2.35, 1.54)], ha="center")
note(axA, "159 mm (3.6 k.y.)", (4.64, 0.86), [(6.28, 0.82), (6.28, 0.31)])
note(axA, "99 mm\n(2.2 k.y.)", (8.13, 0.68), [(8.3, 0.55), (9.95, 0.32)], ha="center")
note(axA, "90.3 mm\n(2.0 k.y.)", (11.25, 0.69), [(11.07, 0.57), (11.07, 0.21)], ha="center")
note(axA, "58.7 mm (1.3 k.y.)", (12.3, 0.51), [(17.03, 0.475), (17.03, 0.2)])
note(axA, "65.8 mm (1.5 k.y.)", (11.25, 0.35), [(15.2, 0.315), (15.2, 0.17)])
bandwidth(axA, 11.1, 12.0, 0.905)
name_box(axA, (15.5, 0.60, 17.6, 0.84), "K", (15.6, 0.725), "Z", (16.98, 0.66), big_fs=31,
         sub_fs=19)
# Milankovitch table
axA.add_patch(Rectangle((4.64, 0.93), 4.23, 0.46, fc=BOXGREY, ec="#555555", lw=1.3, zorder=6))
axA.text(4.8, 1.346, "Milankovitch", fontsize=11, ha="left", va="center", zorder=7)
axA.plot([4.8, 8.72], [1.305, 1.305], color=INK, lw=0.9, zorder=7)
for i, (per, tag) in enumerate(MILANKOVITCH):
    yy = 1.254 - i * 0.085
    axA.text(5.92, yy, per, fontsize=11, ha="right", va="center", zorder=7)
    axA.text(6.3, yy, "k.y.", fontsize=11, ha="left", va="center", zorder=7)
    axA.text(7.75, yy, ": " + tag, fontsize=11, ha="left", va="center", zorder=7)

# panel B
axB.plot([4.0, 4.0], [0, 0.735], color="#888888", lw=1.4, ls=(0, (1, 1.5)), zorder=3)
note(axB, "888.0 mm (35.1 k.y.)", (4.72, 0.722), [(4.6, 0.722), (1.13, 0.722), (1.13, 0.632)])
note(axB, "493.0 mm (19.5 k.y.)", (4.72, 0.657), [(4.6, 0.657), (2.03, 0.657), (2.03, 0.362)])
note(axB, "87.1 mm\n(3.5 k.y.)", (11.0, 0.58), [(11.48, 0.535), (11.48, 0.285)], ha="center")
note(axB, "60.8 mm\n(2.4 k.y.)", (14.28, 0.434), [(14.0, 0.398), (14.0, 0.358), (15.65, 0.358)],
     ha="center")
note(axB, "39.0 mm\n(1.6 k.y.)", (20.57, 0.389), [(20.7, 0.345), (20.7, 0.309), (25.3, 0.309)],
     ha="center")
bandwidth(axB, 18.4, 19.7, 0.251)
name_box(axB, (24.9, 0.337, 28.3, 0.44), "K", (25.05, 0.392), "Z", (27.05, 0.365), big_fs=29,
         sub_fs=18)

# panel C
note(axC, "3070 mm (62.9 k.y.)", (2.54, 21.6), [(2.45, 21.6), (0.32, 21.6), (0.32, 20.8)])
note(axC, "1020 mm (P+)", (2.62, 20.2), [(2.55, 20.2), (0.98, 20.2), (0.98, 10.1)])
note(axC, "658 mm (P-)", (3.68, 18.5), [(3.6, 18.5), (1.52, 18.5), (1.52, 7.6)])
note(axC, "461 mm (9.4 k.y.)", (3.53, 16.6), [(3.45, 16.6), (2.17, 16.6), (2.17, 5.9)])
note(axC, "354 mm (7.3 k.y.)", (4.22, 14.8), [(4.15, 14.8), (2.82, 14.8), (2.82, 4.9)])
note(axC, "205 mm (4.2 k.y.)", (4.66, 12.9), [(4.88, 12.2), (4.88, 5.9)])
note(axC, "118 mm (2.4 k.y.)", (7.0, 11.25), [(8.33, 10.6), (8.33, 3.0)])
note(axC, "95.9 mm (2.0 k.y.)", (9.58, 9.5), [(10.43, 8.9), (10.43, 2.8)])
note(axC, "73.7 mm (1.5 k.y.)", (11.56, 7.0), [(13.43, 6.3), (13.43, 1.9)])
bandwidth(axC, 12.1, 12.8, 15.5)
name_box(axC, (12.98, 19.0, 17.28, 22.0), "D", (13.12, 20.6), "ChRM", (14.5, 19.75))

# panel D
note(axD, "199.0 mm\n(7.9 k.y.)", (2.6, 78.3), [(2.42, 72.4), (2.42, 61.1), (4.3, 61.1)],
     ha="center")
note(axD, "137.0 mm\n(5.4 k.y.)", (7.33, 73.9), [(7.33, 68.9), (7.33, 61.5)], ha="center")
note(axD, "107.0 mm (4.2 k.y.)", (10.16, 80.7), [(10.58, 79.3), (9.44, 67.6), (9.37, 57.5)])
note(axD, "97.1 mm (3.8 k.y.)", (11.13, 75.9), [(11.25, 74.6), (10.33, 67.2), (10.33, 57.8)])
note(axD, "79.4 mm (3.1 k.y.)", (11.25, 70.9), [(12.46, 68.9), (12.46, 47.6)])
note(axD, "64.3 mm (2.5 k.y.)", (13.07, 66.1), [(14.04, 64.1), (14.04, 45.4), (15.25, 45.4)])
note(axD, "44.1 mm (1.7 k.y.)", (14.76, 61.4), [(18.1, 58.9), (18.1, 41.5), (22.2, 41.5)])
note(axD, "40.5 mm (1.6 k.y.)", (19.24, 56.1), [(22.8, 53.7), (22.8, 46.5), (24.4, 46.5)])
bandwidth(axD, 11.25, 12.2, 3.2)
name_box(axD, (20.8, 71.3, 27.76, 82.0), "D", (21.05, 76.8), "ChRM", (23.2, 73.7))

# panel E
note(axE, "837 mm\n(P+)", (1.44, 0.194), [(1.19, 0.178), (1.19, 0.161)], ha="center")
note(axE, "354 mm\n(8.8 k.y.)", (4.15, 0.176), [(4.15, 0.1616), (4.15, 0.111), (3.0, 0.111)],
     ha="center")
note(axE, "159 mm\n(4.0 k.y.)", (7.89, 0.213), [(7.89, 0.198), (7.89, 0.19), (6.45, 0.19)],
     ha="center")
note(axE, "142 mm\n(3.5 k.y.)", (7.89, 0.152), [(7.89, 0.137), (7.89, 0.1134), (7.25, 0.1134)],
     ha="center")
note(axE, "97 mm\n(2.4 k.y.)", (12.07, 0.212), [(10.68, 0.204), (10.16, 0.204), (10.16, 0.188)],
     ha="center")
note(axE, "91.2 mm\n(2.3 k.y.)", (13.98, 0.176), [(12.44, 0.177), (10.87, 0.177), (10.87, 0.098)],
     ha="center")
note(axE, "69.3 mm\n(1.7 k.y.)", (15.96, 0.122), [(14.64, 0.123), (14.24, 0.123), (14.24, 0.111)],
     ha="center")
bandwidth(axE, 13.1, 13.9, 0.153)
name_box(axE, (13.98, 0.19, 17.38, 0.219), "I", (14.1, 0.2087), "ChRM", (14.56, 0.198))

# panel F
note(axF, "888.0 mm\n(35.1 k.y.)", (5.75, 1.82), [(2.9, 1.814), (1.21, 1.814), (1.21, 0.93)],
     ha="center")
note(axF, "90.6 mm\n(3.6 k.y.)", (11.0, 1.625), [(11.08, 1.48), (11.08, 1.19)], ha="center")
note(axF, "56.9 mm\n(2.2 k.y.)", (17.9, 1.6), [(17.6, 1.468), (17.6, 0.93)], ha="center")
note(axF, "52.2 mm\n(2.1 k.y.)", (23.6, 1.37), [(21.05, 1.377), (19.19, 1.377), (19.19, 1.165)],
     ha="center")
bandwidth(axF, 12.95, 13.9, 1.855)
name_box(axF, (22.14, 1.678, 27.6, 1.926), "I", (22.35, 1.834), "ChRM", (23.1, 1.733))

# ── callouts to the insets (figure pixels) ───────────────────────────────────
for cover, outline, roof, link in (
    ([(350, 0), (565, 0), (565, 230), (373, 230), (350, 193)],
     [(547, 230), (373, 230), (350, 193), (350, 25), (393, 5)],
     [(142, 112), (180, 95), (210, 110)], [(180, 95), (350, 95)]),
    ([(1117, 0), (1330, 0), (1330, 227), (1160, 227), (1117, 182)],
     [(1292, 227), (1160, 227), (1117, 182), (1117, 33), (1160, 13)],
     [(898, 110), (927, 99), (953, 112)], [(927, 99), (1117, 99)]),
):
    fig.add_artist(Polygon([fpt(*p) for p in cover], closed=True, fc="white", ec="none",
                           transform=fig.transFigure, zorder=1))
    for seg in (outline, roof, link):
        xs, ys = zip(*[fpt(*p) for p in seg])
        fig.add_artist(Line2D(xs, ys, color=GREY, lw=2.6, transform=fig.transFigure,
                              zorder=2, solid_joinstyle="miter"))

# ── insets ───────────────────────────────────────────────────────────────────
inA = fig.add_axes(rect(413, 25, 552, 183), zorder=5)
inB = fig.add_axes(rect(1188, 20, 1323, 183), zorder=5)
for ax in (inA, inB):
    ax.set_facecolor("white")
    for s in ax.spines.values():
        s.set_linewidth(1.1)

style_axes(inA, (0, 3), (0, 0.2), 1.5, 0.04, yfmt="%.2f", lsize=9.5, major_len=4, minor_len=2)
style_axes(inB, (0, 4), (0, 0.09), 2, 0.02, yfmt="%.2f", lsize=9.5, major_len=4, minor_len=2)

for ax, f, p, gf, gs in ((inA, IA_F, IA_P, IA_GF, IA_GS), (inB, IB_F, IB_P, IB_GF, IB_GS)):
    ax.plot(f, p, color=INK, lw=1.2, zorder=3)
    ax.axhline(gf, color="#555555", lw=1.3, ls=(0, (1, 2.2)), zorder=2)
    ax.axhline(gs, color="#555555", lw=1.3, ls=(0, (1, 2.2)), zorder=2)
    ax.set_ylabel(r"P$_{\mathrm{xx}}$ (f)", fontsize=13, labelpad=2)
    ax.set_xlabel(r"f (10$^{-3}$ mm$^{-1}$)", fontsize=13, labelpad=1)

FS_IA, FS_IB = 6.8, 7
note(inA, "4605 mm (E)", (0.05, 0.195), [(0.23, 0.19), (0.23, 0.104)], fs=FS_IA, lw=0.9, head=8)
note(inA, "1320 mm", (0.31, 0.181), fs=FS_IA)
note(inA, "(O)", (0.76, 0.166), [(0.79, 0.157), (0.79, 0.092)], ha="center", fs=FS_IA, lw=0.9,
     head=8)
note(inA, "921 mm", (1.28, 0.165), fs=FS_IA)
note(inA, "(P+)", (1.72, 0.152), [(1.63, 0.143), (1.63, 0.124), (1.36, 0.124)], ha="center",
     fs=FS_IA, lw=0.9, head=8)
note(inA, "485 mm", (2.6, 0.177), ha="center", fs=FS_IA)
note(inA, "(11.3 k.y.)", (2.53, 0.162), [(2.59, 0.153), (2.59, 0.137), (2.29, 0.137)],
     ha="center", fs=FS_IA, lw=0.9, head=8)
bandwidth(inA, 1.8, 2.0, 0.196, fs=6.8, ms=3.5, lw=1.2)
inA.text(2.7, 0.097, r"g$_{\mathrm{f}}$", fontsize=12, va="center", ha="left")
inA.text(2.7, 0.037, r"g$_{\mathrm{s}}$", fontsize=12, va="center", ha="left")

note(inB, "987 mm (O)", (1.2, 0.082), fs=FS_IB)
note(inB, "2220 mm (E)", (1.49, 0.069), [(1.45, 0.069), (0.43, 0.069), (0.43, 0.0455)],
     fs=FS_IB, lw=0.9, head=8)
note(inB, "592 mm (P+)", (1.37, 0.0556), [(1.69, 0.052), (1.69, 0.0345)], fs=FS_IB, lw=0.9,
     head=8)
note(inB, "444 mm (P-)", (1.96, 0.042), fs=FS_IB)
bandwidth(inB, 2.56, 2.97, 0.0183, fs=5.5, ms=3.5, lw=1.2)
inB.text(3.62, 0.066, r"g$_{\mathrm{f}}$", fontsize=10, va="center", ha="left")
inB.text(3.62, 0.029, r"g$_{\mathrm{s}}$", fontsize=10, va="center", ha="left")

# ── dividers, site labels, legend ────────────────────────────────────────────
fig.add_artist(Line2D(*zip(fpt(702, 33), fpt(702, 1140)), color=INK, lw=3.5,
                      transform=fig.transFigure, zorder=2))
fig.add_artist(Line2D(*zip(fpt(74, 200), fpt(74, 965)), color=INK, lw=3.5,
                      transform=fig.transFigure, zorder=2))

for label, (cx, cy) in (("IT", (606, 64)), ("RS", (789, 64))):
    fig.text(cx / W, 1 - cy / H, label, fontsize=34, ha="center", va="center",
             bbox=dict(boxstyle="round,pad=0.16,rounding_size=0.45", fc="white", ec=INK, lw=1.8))

leg = fig.add_axes(rect(567, 135, 812, 308), zorder=5)
leg.set_xlim(0, 1)
leg.set_ylim(0, 1)
leg.axis("off")
box = FancyBboxPatch((0, 0), 1, 1, boxstyle="round,pad=0,rounding_size=0.06",
                     mutation_aspect=245 / 173, transform=leg.transAxes, fc="none",
                     ec=INK, lw=1.6, zorder=3)
grad = np.linspace(0.97, 0.84, 64)[:, None]
img = leg.imshow(grad, extent=(0, 1, 0, 1), aspect="auto", cmap="gray", vmin=0, vmax=1,
                 zorder=1)
leg.add_patch(box)
img.set_clip_path(box)

row_y = [(308 - y) / 173 for y in (155, 182, 208, 237, 265, 292)]
x0, x1 = (575 - 567) / 245, (623 - 567) / 245
xm = (x0 + x1) / 2
for i, (label, yy) in enumerate(zip(LEGEND_LABELS, row_y)):
    leg.text((645 - 567) / 245, yy, label, fontsize=12, ha="left", va="center", zorder=4)
    if i == 0:
        leg.plot([x0, x1], [yy, yy], color=INK, lw=2.2, zorder=4)
    elif i == 1:
        leg.plot([x0, x1], [yy, yy], color=INK, lw=1.8, ls=(0, (1, 1.3)), zorder=4)
    else:
        leg.plot([x0, xm - 0.05], [yy, yy], color=INK, lw=2.0, zorder=4)
        leg.plot([xm + 0.05, x1], [yy, yy], color=INK, lw=2.0, zorder=4)
        if i == 2:
            leg.plot([xm], [yy], marker="+", ms=7, mew=1.5, color=INK, zorder=4)
        elif i == 3:
            leg.plot([xm], [yy], marker="o", ms=3.5, color=INK, zorder=4)
        elif i == 4:
            leg.plot([xm], [yy], marker="D", ms=3.5, color=INK, zorder=4)
        else:
            leg.plot([xm - 0.012, xm + 0.012], [yy, yy], ls="none", marker="o", ms=2,
                     color=INK, zorder=4)

# ── panel letters and axis titles ────────────────────────────────────────────
for letter, (cx, cy) in (("(A)", (612, 395)), ("(B)", (787, 395)), ("(C)", (612, 705)),
                         ("(D)", (787, 705)), ("(E)", (612, 1078)), ("(F)", (787, 1078))):
    fig.text(cx / W, 1 - cy / H, letter, fontsize=26, ha="center", va="center")

fig.text(35 / W, 1 - 567 / H, r"Autospectrum (x 10$^{4}$)", fontsize=24, rotation=90,
         ha="center", va="center")
for cx in (344, 1095):
    fig.text(cx / W, 1 - 1212 / H, r"f (10$^{-3}$ mm$^{-1}$)", fontsize=25, ha="center",
             va="center")

fig.savefig("out.png", dpi=100)
